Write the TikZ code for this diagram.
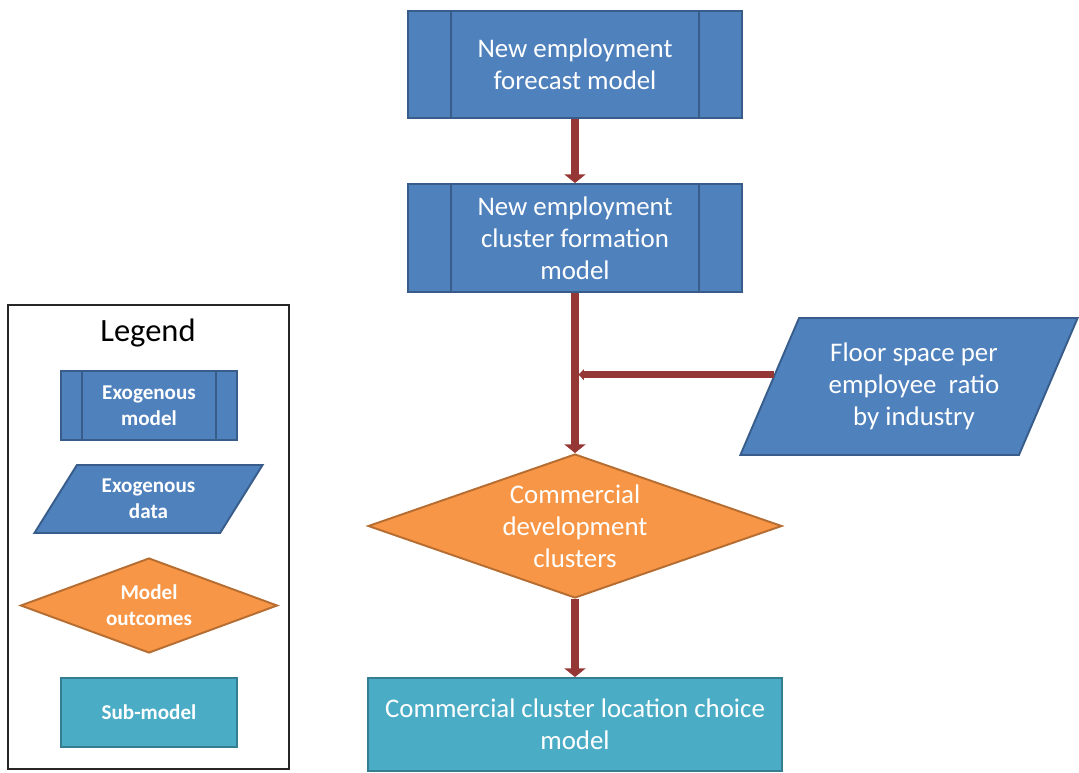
\documentclass[tikz,border=0pt]{standalone}
\usepackage{fontspec}
\setmainfont{Carlito}
\usetikzlibrary{arrows.meta,shapes.geometric}

\definecolor{exoblue}{HTML}{4F81BD}
\definecolor{exoedge}{HTML}{385D8A}
\definecolor{outorange}{HTML}{F79646}
\definecolor{outedge}{HTML}{B66D31}
\definecolor{subteal}{HTML}{4BACC6}
\definecolor{subedge}{HTML}{357D91}
\definecolor{flowred}{HTML}{953735}

\begin{document}
\begin{tikzpicture}[
    x=0.02cm, y=-0.02cm,
    every node/.style={align=center, text=white, inner sep=0pt},
    bigtext/.style={font=\fontsize{15.3}{18.2}\selectfont},
    legtext/.style={font=\fontsize{12}{14.7}\selectfont\bfseries},
    exomodel/.style={draw=exoedge, fill=exoblue, line width=1.1pt,
        path picture={\draw[exoedge, line width=1.1pt]
            ([xshift=#1]path picture bounding box.north west) -- ([xshift=#1]path picture bounding box.south west)
            ([xshift=-#1]path picture bounding box.north east) -- ([xshift=-#1]path picture bounding box.south east);}},
    exomodel/.default=0.86cm,
    exodata/.style={trapezium, trapezium stretches=true, draw=exoedge, fill=exoblue, line width=1.1pt},
    outcome/.style={diamond, draw=outedge, fill=outorange, line width=1.1pt},
    submodel/.style={rectangle, draw=subedge, fill=subteal, line width=1.1pt},
    flow/.style={draw=flowred, line width=4.2pt, -{Triangle[width=12pt,length=5pt]}},
]
\useasboundingbox (0,0) rectangle (1079,772);

% main chain
\node[exomodel, bigtext, minimum width=6.68cm, minimum height=2.14cm] (fcast) at (575,64.5)
    {New employment\\forecast model};
\node[exomodel, bigtext, minimum width=6.68cm, minimum height=2.16cm] (cform) at (575,238)
    {New employment\\cluster formation\\model};
\node[outcome, bigtext, aspect=2.875, minimum width=8.28cm, minimum height=2.88cm] (dev) at (575,526)
    {Commercial\\development\\clusters};
\node[submodel, bigtext, minimum width=8.28cm, minimum height=1.86cm] (loc) at (575,724.5)
    {Commercial cluster location choice\\model};
\node[exodata, bigtext, trapezium left angle=61, trapezium right angle=119,
      minimum width=6.76cm, minimum height=2.74cm] (floor) at (909,386.5)
    {\hspace*{0.2cm}Floor space per\\\hspace*{0.2cm}employee~ ratio\\\hspace*{0.2cm}by industry};

\draw[flow] (fcast.south) -- (cform.north);
\draw[flow] (cform.south) -- (dev.north);
\draw[flow] (dev.south) -- (loc.north);
\draw[flow, -{Triangle[width=6pt,length=3pt]}, shorten >=2pt] (floor.175.5) -- (floor.175.5 -| dev.north);

% legend
\node[draw=black!85, line width=0.8pt, minimum width=5.62cm, minimum height=9.28cm] (legend) at (148.5,537) {};
\node[text=black, font=\fontsize{18.5}{22}\selectfont] (legtitle) at (148,333) {Legend};
\node[exomodel=0.42cm, legtext, minimum width=3.52cm, minimum height=1.38cm] (lgmodel) at (149,405.5)
    {Exogenous\\model};
\node[exodata, legtext, trapezium left angle=55, trapezium right angle=125,
      minimum width=4.6cm, minimum height=1.36cm] (lgdata) at (148.5,499) {Exogenous\\data};
\node[outcome, legtext, aspect=2.7, minimum width=5.14cm, minimum height=1.9cm] (lgout) at (149,605.5)
    {Model\\outcomes};
\node[submodel, legtext, minimum width=3.52cm, minimum height=1.38cm] (lgsub) at (149,712.5) {Sub-model};
\end{tikzpicture}
\end{document}
